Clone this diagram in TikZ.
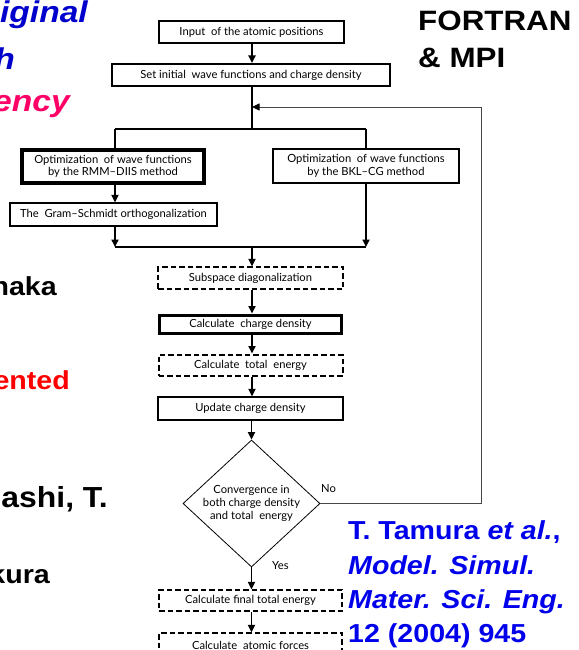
\documentclass[tikz,border=0pt]{standalone}
\usepackage{fontspec}
\newfontfamily\flowfont{Lato}
\newfontfamily\slidefont{Liberation Sans}
\usetikzlibrary{shapes.geometric,arrows.meta}
\definecolor{titleblue}{RGB}{0,0,204}
\definecolor{citeblue}{RGB}{0,0,235}
\definecolor{titlepink}{RGB}{255,0,102}
\definecolor{slidered}{RGB}{255,0,0}
\definecolor{loopgray}{RGB}{70,70,70}
\begin{document}
\begin{tikzpicture}[x=1pt,y=-1pt,
  box/.style={draw,inner sep=0pt,align=center,line width=1.2pt,
    font=\flowfont\fontsize{11.2}{12.5}\selectfont},
  dbox/.style={box,dash pattern=on 5.5pt off 3pt},
  flow/.style={line width=1.8pt,-{Triangle[length=7.5pt,width=7pt]}},
  plain/.style={line width=1.6pt},
  thinline/.style={line width=1.1pt},
  loopline/.style={line width=0.9pt,draw=loopgray},
  lbl/.style={inner sep=0pt,font=\flowfont\fontsize{11.2}{13}\selectfont},
  title/.style={inner sep=0pt,anchor=base east,font=\slidefont\bfseries\itshape\fontsize{30}{36}\selectfont},
  body/.style={inner sep=0pt,anchor=base east,font=\slidefont\bfseries\fontsize{26}{30}\selectfont},
  cite/.style={inner sep=0pt,anchor=base west,text=citeblue,font=\slidefont\bfseries\fontsize{26}{30}\selectfont},
  lang/.style={inner sep=0pt,anchor=base west,font=\slidefont\bfseries\fontsize{28}{32}\selectfont}
]
\useasboundingbox (0,0) rectangle (578,650);
\clip (0,0) rectangle (578,650);

% slide texts (cut off on the left)
\node[title,text=titleblue] (t1) at (88,23) {\scalebox{1.12}[1]{iginal}};
\node[title,text=titleblue] (t2) at (15,70) {\scalebox{1.12}[1]{h}};
\node[title,text=titlepink] (t3) at (70,112) {\scalebox{1.12}[1]{ency}};
\node[body] (b1) at (57,295) {\scalebox{1.1}[1]{naka}};
\node[body,text=slidered] (b2) at (70,389) {\scalebox{1.1}[1]{ented}};
\node[body,font=\slidefont\bfseries\fontsize{29}{33}\selectfont] (b3) at (108,507) {\scalebox{1.1}[1]{ashi, T.}};
\node[body] (b4) at (50,583) {\scalebox{1.1}[1]{kura}};

\node[lang] (f1) at (418,31) {\scalebox{1.12}[1]{FORTRAN}};
\node[lang] (f2) at (418,68) {\scalebox{1.12}[1]{\& MPI}};

\node[cite] (c1) at (348,539) {\scalebox{1.1}[1]{T. Tamura \textit{et al.},}};
\node[cite] (c2) at (348,574) {\scalebox{1.1}[1]{\textit{Model. Simul.}}};
\node[cite] (c3) at (348,608) {\scalebox{1.1}[1]{\textit{Mater. Sci. Eng.}}};
\node[cite] (c4) at (348,642) {\scalebox{1.1}[1]{12 (2004) 945}};

% flowchart boxes
\node[box,minimum width=185pt,minimum height=22pt] (in) at (251.5,32) {Input\ \ of the atomic positions};
\node[box,line width=2pt,minimum width=278pt,minimum height=22pt] (set) at (251,75) {Set initial\ \ wave functions and charge density};
\node[box,line width=4pt,minimum width=182pt,minimum height=33pt] (rmm) at (113,166.5) {Optimization\ \ of wave functions\\by the RMM–DIIS method};
\node[box,minimum width=207pt,minimum height=23pt] (gs) at (113.5,214.5) {The\ \ Gram–Schmidt orthogonalization};
\node[box,minimum width=186pt,minimum height=34pt] (bkl) at (366,166) {Optimization\ \ of wave functions\\by the BKL–CG method};
\node[dbox,minimum width=185pt,minimum height=22pt] (sub) at (250.5,278) {Subspace diagonalization};
\node[box,line width=3pt,minimum width=182pt,minimum height=18pt] (cc) at (250.5,324) {Calculate\ \ charge density};
\node[dbox,line width=2pt,minimum width=184pt,minimum height=21pt] (te) at (250.5,365) {Calculate\ \ total\ \ energy};
\node[box,minimum width=185pt,minimum height=23pt] (up) at (250.5,408.5) {Update charge density};
\node[diamond,draw,line width=0.8pt,inner sep=0pt,minimum width=137pt,minimum height=127pt] (conv) at (251.5,503.5) {};
\node[lbl,align=center] (convtext) at (conv.center) {Convergence in\\both charge density\\and total\ \ energy};
\node[dbox,minimum width=183pt,minimum height=21pt] (fe) at (250.5,600.5) {Calculate final total energy};
\node[dbox,minimum width=183pt,minimum height=24pt] (af) at (250.5,645) {Calculate\ \ atomic forces};

\node[lbl,anchor=west] (no) at (321,489) {No};
\node[lbl,anchor=west] (yes) at (272,566) {Yes};

% connectors
\coordinate (split) at (252,129);
\coordinate (splitL) at (115,129);
\coordinate (splitR) at (366,129);
\coordinate (joinL) at (115,247);
\coordinate (joinR) at (366,247);
\coordinate (joinC) at (252,247);
\coordinate (loopR) at (481,503.5);
\coordinate (loopT) at (481,107);
\coordinate (loopE) at (252,107);

\draw[flow] (in.south -| split) -- (set.north -| split);
\draw[plain] (set.south -| split) -- (split);
\draw[thinline] (splitL) -- (splitR);
\draw[plain] (splitL) -- (splitL |- rmm.north);
\draw[plain] (splitR) -- (splitR |- bkl.north);
\draw[flow] (rmm.south -| splitL) -- (gs.north -| splitL);
\draw[flow] (gs.south -| joinL) -- (joinL);
\draw[flow] (bkl.south -| joinR) -- (joinR);
\draw[thinline] (joinL) -- (joinR);
\draw[flow] (joinC) -- (sub.north -| joinC);
\draw[flow] (sub.south -| joinC) -- (cc.north -| joinC);
\draw[flow] (cc.south -| joinC) -- (te.north -| joinC);
\draw[flow] (te.south -| joinC) -- (up.north -| joinC);
\draw[flow] (up.south -| conv.north) -- (conv.north);
\draw[loopline,-{Triangle[length=7.5pt,width=7pt,color=black]}] (conv.east) -- (loopR) -- (loopT) -- (loopE);
\draw[flow] (conv.south) -- (fe.north -| conv.south);
\draw[flow] (fe.south -| conv.south) -- (af.north -| conv.south);
\end{tikzpicture}
\end{document}
